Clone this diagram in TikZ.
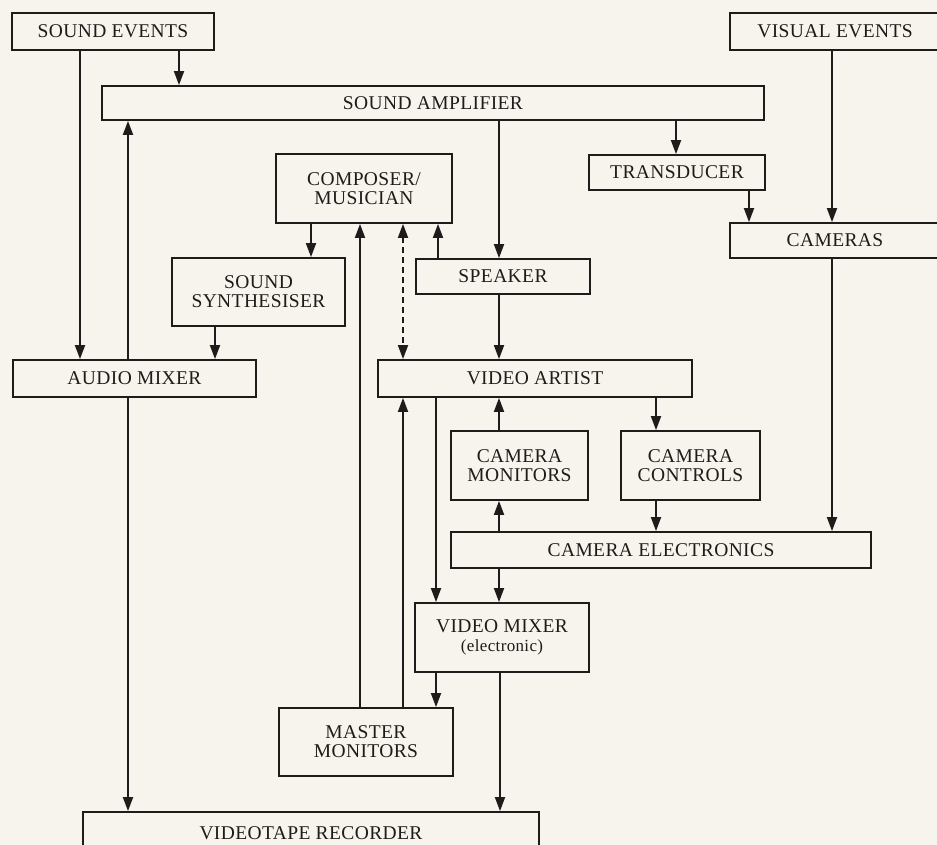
\documentclass[tikz,border=0pt]{standalone}
\usepackage{fontspec}
\setmainfont{Liberation Serif}[LetterSpace=2.0]
\usetikzlibrary{arrows.meta}
\definecolor{paper}{RGB}{247,244,237}
\definecolor{ink}{RGB}{30,28,26}
\tikzset{
  box/.style={draw=ink, line width=1.8pt, inner sep=0pt, align=center, text=ink,
    font=\fontsize{19.5}{18.8}\selectfont},
  arr/.style={draw=ink, line width=1.8pt, -{Triangle[length=14pt,width=10pt]}},
  dbl/.style={draw=ink, line width=1.8pt, dash pattern=on 6pt off 4pt,
    {Triangle[length=14pt,width=10pt]}-{Triangle[length=14pt,width=10pt]}},
  ln/.style={draw=ink, line width=1.8pt}
}
\begin{document}
\begin{tikzpicture}[x=1pt,y=-1pt]
\useasboundingbox (0,0) rectangle (937,845);
\clip (0,0) rectangle (937,845);
\fill[paper] (0,0) rectangle (937,845);

\node[box, minimum width=202pt, minimum height=37pt] (SE) at (113,31.5) {SOUND EVENTS};
\node[box, minimum width=662pt, minimum height=34pt] (SA) at (433,103) {SOUND AMPLIFIER};
\node[box, minimum width=210pt, minimum height=37pt] (VE) at (835,31.5) {VISUAL EVENTS};
\node[box, minimum width=176pt, minimum height=69pt] (CM) at (364,188.5) {COMPOSER/\\MUSICIAN};
\node[box, minimum width=176pt, minimum height=35pt] (TR) at (677,172.5) {TRANSDUCER};
\node[box, minimum width=210pt, minimum height=35pt] (CAM) at (835,240.5) {CAMERAS};
\node[box, minimum width=173pt, minimum height=68pt] (SS) at (258.5,292) {SOUND\\SYNTHESISER};
\node[box, minimum width=174pt, minimum height=35pt] (SP) at (503,276.5) {SPEAKER};
\node[box, minimum width=243pt, minimum height=37pt] (AM) at (134.5,378.5) {AUDIO MIXER};
\node[box, minimum width=314pt, minimum height=37pt] (VA) at (535,378.5) {VIDEO ARTIST};
\node[box, minimum width=137pt, minimum height=69pt] (CMon) at (519.5,465.5) {CAMERA\\MONITORS};
\node[box, minimum width=139pt, minimum height=69pt] (CC) at (690.5,465.5) {CAMERA\\CONTROLS};
\node[box, minimum width=420pt, minimum height=36pt] (CE) at (661,550) {CAMERA ELECTRONICS};
\node[box, minimum width=174pt, minimum height=69pt] (VM) at (502,637.5) {VIDEO MIXER\\{\fontsize{17}{17}\selectfont (electronic)}};
\node[box, minimum width=174pt, minimum height=68pt] (MM) at (366,742) {MASTER\\MONITORS};
\node[box, minimum width=456pt, minimum height=42pt] (VTR) at (311,833) {VIDEOTAPE RECORDER};

% sound side
\draw[arr] (SE.south -| 80,0) -- (AM.north -| 80,0);
\draw[arr] (SE.south -| 179,0) -- (SA.north -| 179,0);
\draw[arr] (AM.north -| 128,0) -- (SA.south -| 128,0);
\draw[arr] (AM.south -| 128,0) -- (VTR.north -| 128,0);
\draw[arr] (SA.south -| 499,0) -- (SP.north -| 499,0);
\draw[arr] (SA.south -| 676,0) -- (TR.north -| 676,0);
\draw[arr] (VE.south -| 832,0) -- (CAM.north -| 832,0);
\draw[arr] (TR.south -| 749,0) -- (CAM.north -| 749,0);
\draw[arr] (CAM.south -| 832,0) -- (CE.north -| 832,0);
\draw[arr] (CM.south -| 311,0) -- (SS.north -| 311,0);
\draw[arr] (SS.south -| 215,0) -- (AM.north -| 215,0);
\draw[arr] (SP.north -| 438,0) -- (CM.south -| 438,0);
\draw[arr] (SP.south -| 499,0) -- (VA.north -| 499,0);
\draw[dbl] (CM.south -| 403,0) -- (VA.north -| 403,0);
% video side
\draw[arr] (MM.north -| 360,0) -- (CM.south -| 360,0);
\draw[arr] (MM.north -| 403,0) -- (VA.south -| 403,0);
\draw[arr] (VA.south -| 436,0) -- (VM.north -| 436,0);
\draw[arr] (CMon.north -| 499,0) -- (VA.south -| 499,0);
\draw[arr] (VA.south -| 656,0) -- (CC.north -| 656,0);
\draw[arr] (CE.north -| 499,0) -- (CMon.south -| 499,0);
\draw[arr] (CC.south -| 656,0) -- (CE.north -| 656,0);
\draw[arr] (CE.south -| 499,0) -- (VM.north -| 499,0);
\draw[arr] (VM.south -| 436,0) -- (MM.north -| 436,0);
\draw[arr] (VM.south -| 500,0) -- (VTR.north -| 500,0);
\end{tikzpicture}
\end{document}
